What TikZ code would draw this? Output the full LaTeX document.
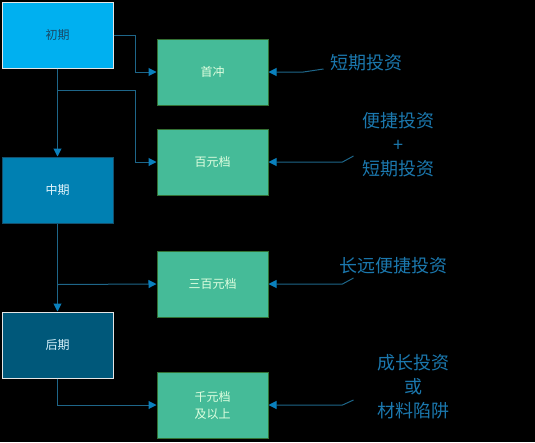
\documentclass[tikz,border=0pt]{standalone}
\usepackage{fontspec}
\setmainfont{Noto Sans CJK SC}
\usetikzlibrary{arrows.meta,calc}

\begin{document}
\begin{tikzpicture}[x=1pt,y=1pt,
    stage/.style={draw, line width=1pt, minimum width=111pt, minimum height=66pt, inner sep=0pt, font=\fontsize{12}{14}\selectfont},
    level/.style={draw=green!30!black!80, fill=tier, text=white!88!green, line width=1pt, minimum width=111pt, minimum height=66pt, inner sep=0pt, align=center, font=\fontsize{12}{17}\selectfont},
    note/.style={text=notec, align=center, font=\fontsize{18}{24}\selectfont},
    link/.style={draw=linec, line width=1pt, -{Triangle[length=8pt,width=8pt,fill=tipc,color=tipc]}},
    plain/.style={draw=linec, line width=1pt}]
\definecolor{tier}{HTML}{45BB98}
\definecolor{notec}{HTML}{1B78AE}
\definecolor{linec}{HTML}{1E6689}
\definecolor{tipc}{HTML}{0A80BD}
\fill[black] (0,0) rectangle (535,-442);
\node[stage, draw=white!90!black, fill={rgb,255:red,0;green,176;blue,240}, text={rgb,255:red,24;green,74;blue,104}] (chuqi) at (57.5,-35) {初期};
\node[stage, draw={rgb,255:red,20;green,80;blue,110}, fill={rgb,255:red,0;green,128;blue,178}, text=white!90!cyan] (zhongqi) at (57.5,-190) {中期};
\node[stage, draw=white!90!black, fill={rgb,255:red,0;green,88;blue,122}, text=white!85!cyan] (houqi) at (57.5,-345) {后期};
\node[level] (shouchong) at (212.5,-72) {首冲};
\node[level] (baiyuan) at (212.5,-162) {百元档};
\node[level] (sanbai) at (212.5,-284) {三百元档};
\node[level] (qianyuan) at (212.5,-405) {千元档\\及以上};
\node[note, anchor=west] (noteA) at (327,-63) {短期投资};
\node[note] (noteB) at (398,-145) {便捷投资\\+\\短期投资};
\node[note] (noteC) at (393,-266) {长远便捷投资};
\node[note] (noteD) at (413,-387) {成长投资\\或\\材料陷阱};
\coordinate (splitA) at ($(chuqi.south)+(0,-22)$);
\coordinate (splitB) at ($(zhongqi.south)+(0,-61)$);
\draw[link] (chuqi.east) -- ++(22,0) |- (shouchong.west);
\draw[link] (chuqi.south) -- (zhongqi.north);
\draw[link] (splitA) -- ++(78,0) |- (baiyuan.west);
\draw[link] (zhongqi.south) -- (houqi.north);
\draw[link] (splitB) -- (sanbai.west);
\draw[link] (houqi.south) |- (qianyuan.west);
\draw[link] ($(shouchong.east)+(55,3)$) -- ($(shouchong.east)+(35,0)$) -- (shouchong.east);
\draw[link] ($(baiyuan.east)+(85,6)$) -- ($(baiyuan.east)+(74,0)$) -- (baiyuan.east);
\draw[link] ($(sanbai.east)+(85,6)$) -- ($(sanbai.east)+(74,0)$) -- (sanbai.east);
\draw[link] ($(qianyuan.east)+(85,5)$) -- ($(qianyuan.east)+(74,0)$) -- (qianyuan.east);
\end{tikzpicture}
\end{document}
